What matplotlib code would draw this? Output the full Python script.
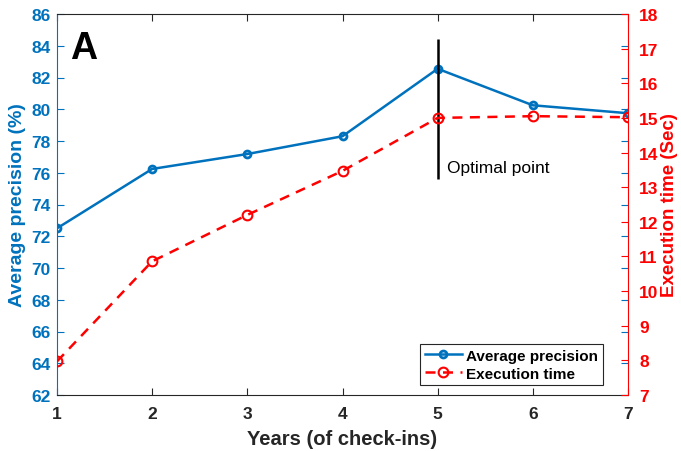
import numpy as np
import matplotlib.pyplot as plt

plt.rcParams['font.family'] = ['Liberation Sans', 'DejaVu Sans']

# values
years = [1, 2, 3, 4, 5, 6, 7]
avg_precision = [72.5, 76.24, 77.18, 78.3, 82.55, 80.25, 79.75]
exec_time = [7.97, 10.86, 12.2, 13.47, 15.0, 15.05, 15.02]
optimal_x = 5
optimal_span = (75.6, 84.4)

blue = '#0072BD'
red = '#FF0000'
dark = '#262626'

fig = plt.figure(figsize=(6.81, 4.52), dpi=100)
ax1 = fig.add_axes([57 / 681, 1 - 396 / 452, 571 / 681, 381 / 452])
ax2 = ax1.twinx()

# left axis: precision
ax1.plot(years, avg_precision, '-', color=blue, lw=1.8, marker='o', ms=5,
         mfc='none', mew=2, label='Average precision')
ax1.vlines(optimal_x, *optimal_span, color='black', lw=1.8)
ax1.text(5.098, 76.36, 'Optimal point', fontsize=12.5, va='center', ha='left')
ax1.text(0.023, 0.912, 'A', transform=ax1.transAxes, fontsize=27,
         fontweight='bold', va='center')

ax1.set_xlim(1, 7)
ax1.set_ylim(62, 86)
ax1.set_xticks(years)
ax1.set_yticks(np.arange(62, 87, 2))
ax1.set_xlabel('Years (of check-ins)', fontsize=14.5, fontweight='bold',
               color=dark, labelpad=6)
ax1.set_ylabel('Average precision (%)', fontsize=14, fontweight='bold',
               color=blue, labelpad=4)

# right axis: execution time
ax2.plot(years, exec_time, '--', color=red, lw=1.8, marker='o', ms=7,
         mfc='none', mew=1.5, label='Execution time', dashes=(4, 3))
ax2.set_ylim(7, 18)
ax2.set_yticks(np.arange(7, 19, 1))
ax2.set_ylabel('Execution time (Sec)', fontsize=13.5, fontweight='bold',
               color=red, labelpad=2)

# styling in the MATLAB manner
for lab in ax1.get_xticklabels() + ax1.get_yticklabels() + ax2.get_yticklabels():
    lab.set_fontweight('bold')

ax1.tick_params(axis='x', direction='in', top=True, labelsize=12.5,
                colors=dark, length=5, pad=8)
ax1.tick_params(axis='y', direction='in', right=True, labelsize=12.5,
                colors=blue, length=5, pad=4.5)
ax2.tick_params(axis='y', direction='in', labelsize=12.5, colors=red,
                length=5, pad=8)

ax1.spines['left'].set_color(blue)
ax1.spines['right'].set_visible(False)
ax1.spines['top'].set_color(dark)
ax1.spines['bottom'].set_color(dark)
ax2.spines['right'].set_color(red)
ax2.spines['left'].set_visible(False)
ax2.spines['top'].set_visible(False)
ax2.spines['bottom'].set_visible(False)

h1, l1 = ax1.get_legend_handles_labels()
h2, l2 = ax2.get_legend_handles_labels()
leg = ax2.legend(h1 + h2, l1 + l2, loc='lower right',
                 bbox_to_anchor=(0.956, 0.026), borderaxespad=0,
                 fancybox=False, edgecolor=dark, framealpha=1,
                 prop={'weight': 'bold', 'size': 11}, handlelength=2.4,
                 borderpad=0.3, labelspacing=0.25, handletextpad=0.3)
leg.get_frame().set_linewidth(0.8)

fig.savefig('out.png', dpi=100)
